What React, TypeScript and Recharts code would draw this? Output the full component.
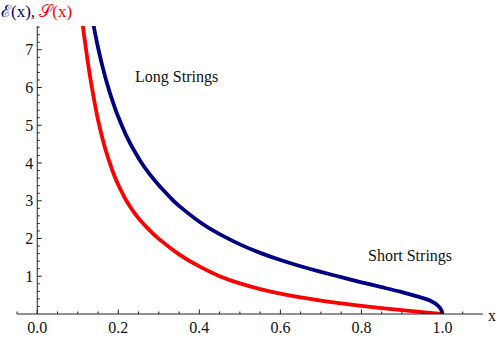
import { LineChart, Line, XAxis, YAxis, ReferenceLine, ReferenceDot } from "recharts";

// E(x) — long strings (navy)
const eX = [0.13, 0.14, 0.15, 0.16, 0.17, 0.18, 0.19, 0.2, 0.22, 0.24, 0.26, 0.28, 0.3, 0.33, 0.35, 0.4, 0.45, 0.5, 0.55, 0.6, 0.65, 0.7, 0.75, 0.8, 0.85, 0.9, 0.94, 0.97, 0.99, 0.998, 1.0];
const eY = [8.2, 7.59, 7.06, 6.6, 6.19, 5.83, 5.51, 5.22, 4.72, 4.31, 3.96, 3.67, 3.41, 3.065, 2.865, 2.445, 2.115, 1.845, 1.62, 1.43, 1.265, 1.115, 0.975, 0.84, 0.71, 0.58, 0.46, 0.35, 0.21, 0.09, 0];

// S(x) — short strings (red)
const sX = [0.1, 0.11, 0.12, 0.13, 0.14, 0.15, 0.16, 0.17, 0.18, 0.19, 0.2, 0.21, 0.22, 0.24, 0.26, 0.28, 0.3, 0.35, 0.4, 0.45, 0.5, 0.55, 0.6, 0.65, 0.7, 0.75, 0.8, 0.85, 0.9, 0.95, 1.0];
const sY = [8.9, 7.85, 7.04, 6.31, 5.69, 5.14, 4.69, 4.3, 3.97, 3.67, 3.42, 3.2, 3.0, 2.67, 2.41, 2.19, 1.99, 1.58, 1.26, 1.0, 0.81, 0.66, 0.54, 0.44, 0.355, 0.28, 0.215, 0.155, 0.1, 0.05, 0];

const xMajor = [0, 0.2, 0.4, 0.6, 0.8, 1.0];
const xMinor = [-0.05, 0.05, 0.1, 0.15, 0.25, 0.3, 0.35, 0.45, 0.5, 0.55, 0.65, 0.7, 0.75, 0.85, 0.9, 0.95, 1.05];
const yMajor = [1, 2, 3, 4, 5, 6, 7];
const yMinor = [0.2, 0.4, 0.6, 0.8, 1.2, 1.4, 1.6, 1.8, 2.2, 2.4, 2.6, 2.8, 3.2, 3.4, 3.6, 3.8, 4.2, 4.4, 4.6, 4.8, 5.2, 5.4, 5.6, 5.8, 6.2, 6.4, 6.6, 6.8, 7.2, 7.4, 7.6];

const eData = eX.map((x, i) => ({ x, v: eY[i] }));
const sData = sX.map((x, i) => ({ x, v: sY[i] }));

const W = 500;
const H = 338;
const X_MIN = -0.05;
const X_MAX = 1.1;
const Y_MAX = 7.63;
const M = { top: 26, right: 17, left: 0, bottom: 0 };
const Y_AXIS_W = 17;
const X_AXIS_H = 24;
const AXIS_Y = H - X_AXIS_H;
const PLOT_W = W - M.right - Y_AXIS_W;
// pixel column of x = 0, where the vertical axis sits
const ORIGIN_X = Y_AXIS_W + ((0 - X_MIN) / (X_MAX - X_MIN)) * PLOT_W;

const FONT = "Liberation Serif, Times New Roman, serif";
const TXT = { fontFamily: FONT, fontSize: 16 };
const AXIS = "#222";
const NAVY = "#000080";
const RED = "#ff0000";

function XTick({ x, payload }: any) {
  const major = xMajor.some((m) => Math.abs(m - payload.value) < 1e-6);
  return (
    <g>
      <line x1={x} x2={x} y1={AXIS_Y} y2={AXIS_Y - (major ? 4.5 : 2.5)} stroke={AXIS} strokeWidth={1} />
      {major && (
        <text x={x} y={AXIS_Y + 19} textAnchor="middle" style={TXT} fill="#111">
          {payload.value.toFixed(1)}
        </text>
      )}
    </g>
  );
}

function YTick({ y, payload }: any) {
  const major = yMajor.includes(payload.value);
  return (
    <g>
      <line x1={ORIGIN_X} x2={ORIGIN_X + (major ? 4.5 : 2.5)} y1={y} y2={y} stroke={AXIS} strokeWidth={1} />
      {major && (
        <text x={ORIGIN_X - 4} y={y + 5.5} textAnchor="end" style={TXT} fill="#111">
          {payload.value}
        </text>
      )}
    </g>
  );
}

function XName({ viewBox }: any) {
  return (
    <text x={viewBox.x + viewBox.width + 9} y={AXIS_Y + 7} textAnchor="middle" style={TXT} fill="#111">
      x
    </text>
  );
}

function Note(text: string) {
  return ({ viewBox }: any) => (
    <text x={viewBox.cx ?? viewBox.x} y={(viewBox.cy ?? viewBox.y) + 5} textAnchor="middle" style={TXT} fill="#111">
      {text}
    </text>
  );
}

export default function App() {
  return (
    <div style={{ position: "absolute", left: 0, top: 0, width: W, height: H, background: "#fff" }}>
      <div style={{ position: "absolute", left: 1, top: -1, fontFamily: FONT, fontSize: 17, whiteSpace: "nowrap" }}>
        <span style={{ color: NAVY }}>ℰ(x)</span>
        <span style={{ color: "#111" }}>, </span>
        <span style={{ color: RED }}>𝒮(x)</span>
      </div>
      <LineChart width={W} height={H} margin={M}>
        <XAxis
          type="number"
          dataKey="x"
          domain={[X_MIN, X_MAX]}
          allowDataOverflow
          ticks={[...xMajor, ...xMinor].sort((a, b) => a - b)}
          interval={0}
          height={X_AXIS_H}
          axisLine={{ stroke: AXIS, strokeWidth: 1 }}
          tickLine={false}
          tick={<XTick />}
          label={<XName />}
        />
        <YAxis
          type="number"
          domain={[0, Y_MAX]}
          allowDataOverflow
          ticks={[...yMajor, ...yMinor].sort((a, b) => a - b)}
          interval={0}
          width={Y_AXIS_W}
          axisLine={false}
          tickLine={false}
          tick={<YTick />}
        />
        <ReferenceLine x={0} stroke={AXIS} strokeWidth={1} />
        <Line data={sData} dataKey="v" type="natural" stroke={RED} strokeWidth={3.8} dot={false} isAnimationActive={false} />
        <Line data={eData} dataKey="v" type="natural" stroke={NAVY} strokeWidth={3.8} dot={false} isAnimationActive={false} />
        <ReferenceDot x={0.344} y={6.28} r={0} fill="none" stroke="none" label={Note("Long Strings")} />
        <ReferenceDot x={0.92} y={1.53} r={0} fill="none" stroke="none" label={Note("Short Strings")} />
      </LineChart>
    </div>
  );
}
